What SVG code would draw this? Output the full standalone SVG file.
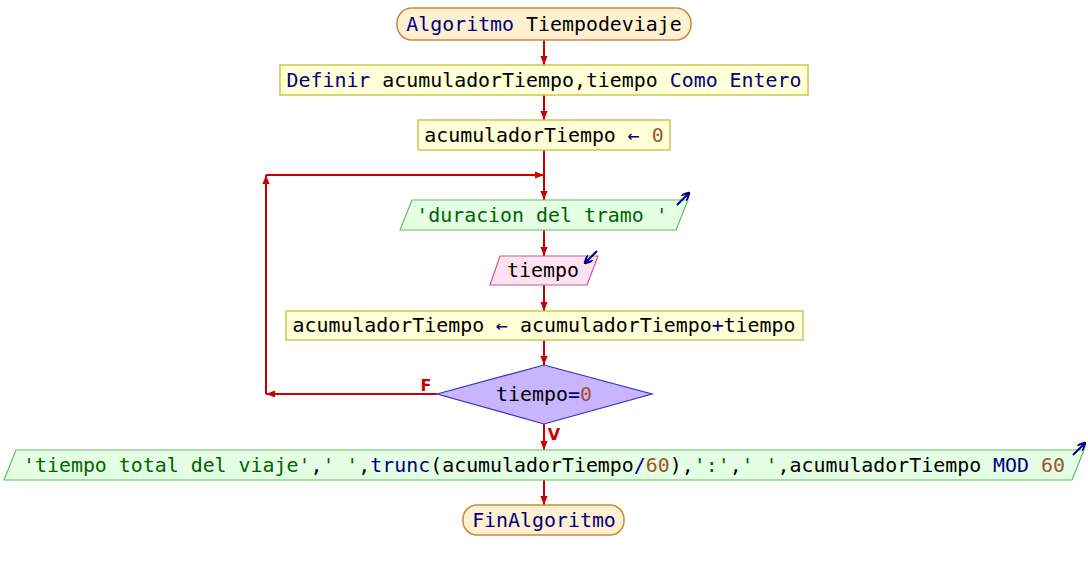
<svg xmlns="http://www.w3.org/2000/svg" width="1088" height="570" viewBox="0 0 1088 570">
  <style>
    text { font-family: "DejaVu Sans Mono", "Liberation Mono", monospace; font-size: 19.9px; fill: #000000; text-anchor: middle; }
    .kw { fill: #000080; }
    .str { fill: #006400; }
    .num { fill: #a0522d; }
    .op { fill: #000080; }
    .term { fill: #fff0d2; stroke: #c88a40; stroke-width: 1.5; }
    .proc { fill: #ffffd8; stroke: #c8c850; stroke-width: 1.5; }
    .out { fill: #e4ffe4; stroke: #60c060; stroke-width: 1.2; }
    .in { fill: #ffe2f0; stroke: #c06090; stroke-width: 1.2; }
    .dec { fill: #c8b4ff; stroke: #3030c0; stroke-width: 1.2; }
    .flow { stroke: #cc0000; stroke-width: 2; fill: none; marker-end: url(#head); }
    .lbl { font-family: "DejaVu Sans", "Liberation Sans", sans-serif; font-size: 16px; font-weight: bold; fill: #cc0000; }
    .io { stroke: #000080; stroke-width: 2; fill: none; marker-end: url(#ioHead); }
  </style>
  <defs>
    <marker id="head" viewBox="0 0 10 10" refX="10" refY="5" markerWidth="9" markerHeight="9" markerUnits="userSpaceOnUse" orient="auto">
      <path d="M0,1 L10,5 L0,9 Z" fill="#cc0000"/>
    </marker>
    <marker id="ioHead" viewBox="0 0 10 10" refX="9" refY="5" markerWidth="8" markerHeight="8" markerUnits="userSpaceOnUse" orient="auto">
      <path d="M0,0 L10,5 L0,10" fill="none" stroke="#000080" stroke-width="2.5"/>
    </marker>
  </defs>

  <!-- flow lines -->
  <g id="connectors">
    <line class="flow" x1="544" y1="40" x2="544" y2="65"/>
    <line class="flow" x1="544" y1="95" x2="544" y2="120"/>
    <line class="flow" x1="544" y1="150" x2="544" y2="200"/>
    <line class="flow" x1="544" y1="230" x2="544" y2="256"/>
    <line class="flow" x1="544" y1="285" x2="544" y2="311"/>
    <line class="flow" x1="544" y1="340" x2="544" y2="365"/>
    <line class="flow" x1="437" y1="394" x2="266" y2="394"/>
    <line class="flow" x1="266" y1="394" x2="266" y2="175"/>
    <line class="flow" x1="266" y1="175" x2="544" y2="175"/>
    <line class="flow" x1="544" y1="424" x2="544" y2="450"/>
    <line class="flow" x1="544" y1="480" x2="544" y2="505"/>
    <text class="lbl" x="426" y="391">F</text>
    <text class="lbl" x="554" y="440">V</text>
  </g>

  <g id="start">
    <rect class="term" x="397" y="8" width="294" height="32" rx="15"/>
    <text x="544" y="31"><tspan class="kw">Algoritmo</tspan> Tiempodeviaje</text>
  </g>

  <g id="define">
    <rect class="proc" x="280" y="65" width="528" height="30"/>
    <text x="544" y="87"><tspan class="kw">Definir</tspan> acumuladorTiempo,tiempo <tspan class="kw">Como Entero</tspan></text>
  </g>

  <g id="init">
    <rect class="proc" x="418" y="120" width="252" height="30"/>
    <text x="544" y="142">acumuladorTiempo <tspan class="op">←</tspan> <tspan class="num">0</tspan></text>
  </g>

  <g id="prompt">
    <polygon class="out" points="412,200 688,200 676,230 400,230"/>
    <text x="542" y="222"><tspan class="str">'duracion del tramo '</tspan></text>
    <line class="io" x1="677" y1="205" x2="689" y2="193"/>
  </g>

  <g id="read">
    <polygon class="in" points="500,256 598,256 587,285 490,285"/>
    <text x="543" y="277">tiempo</text>
    <line class="io" x1="597" y1="251" x2="585" y2="263"/>
  </g>

  <g id="accumulate">
    <rect class="proc" x="286" y="311" width="517" height="29"/>
    <text x="544" y="332">acumuladorTiempo <tspan class="op">←</tspan> acumuladorTiempo<tspan class="op">+</tspan>tiempo</text>
  </g>

  <g id="until">
    <polygon class="dec" points="437,394 544,365 652,394 544,424"/>
    <text x="544" y="401">tiempo<tspan class="op">=</tspan><tspan class="num">0</tspan></text>
  </g>

  <g id="result">
    <polygon class="out" points="16,450 1084,450 1072,480 4,480"/>
    <text x="544" y="472"><tspan class="str">'tiempo total del viaje'</tspan>,<tspan class="str">' '</tspan>,<tspan class="kw">trunc</tspan>(acumuladorTiempo<tspan class="op">/</tspan><tspan class="num">60</tspan>),<tspan class="str">':'</tspan>,<tspan class="str">' '</tspan>,acumuladorTiempo <tspan class="kw">MOD</tspan> <tspan class="num">60</tspan></text>
    <line class="io" x1="1073" y1="455" x2="1085" y2="443"/>
  </g>

  <g id="end">
    <rect class="term" x="463" y="505" width="161" height="30" rx="14"/>
    <text x="544" y="527"><tspan class="kw">FinAlgoritmo</tspan></text>
  </g>
</svg>
